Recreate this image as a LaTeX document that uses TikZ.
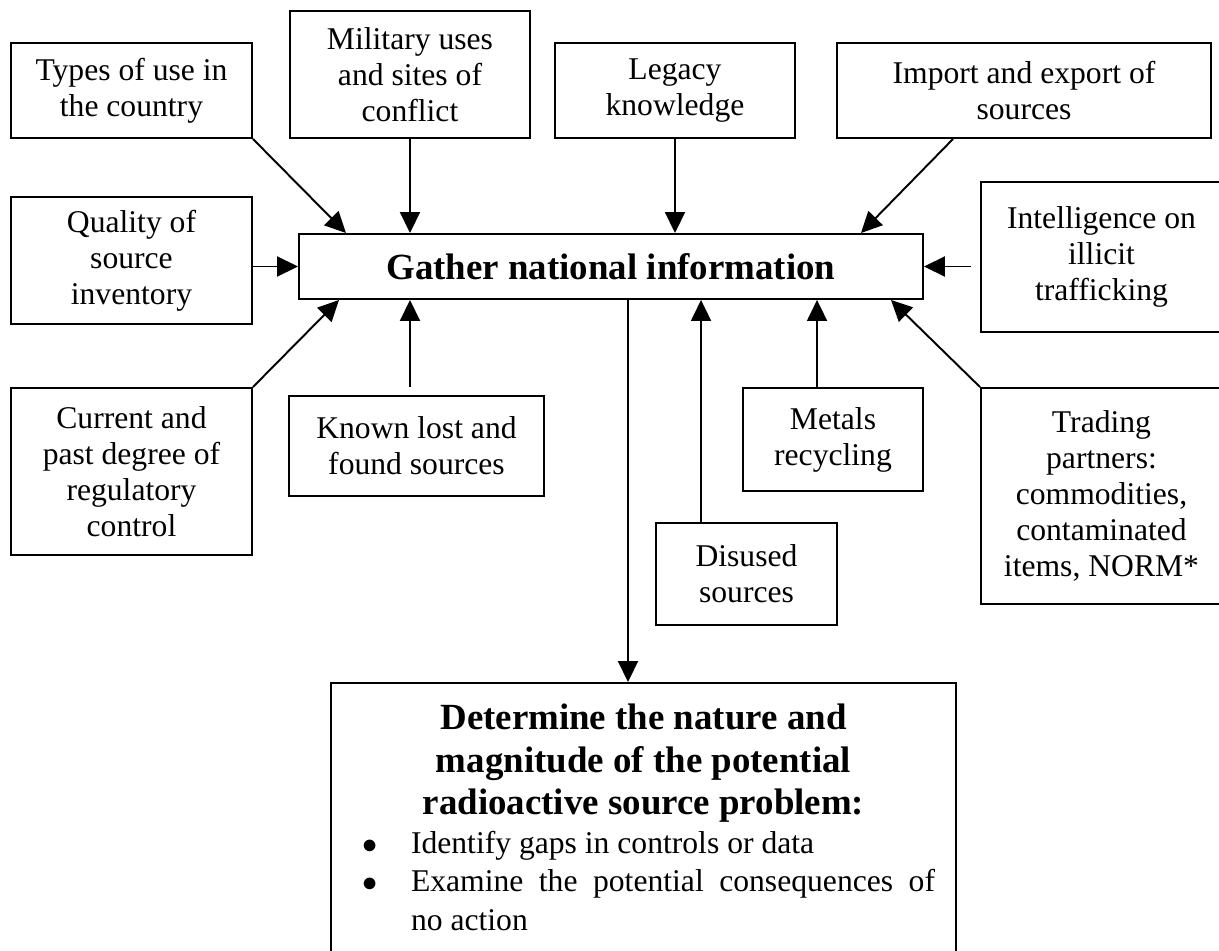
\documentclass[tikz,border=0pt]{standalone}
\usepackage{fontspec}
\setmainfont{Liberation Serif}
\usepackage{tikz}
\usetikzlibrary{arrows.meta}

\begin{document}
\begin{tikzpicture}[
   box/.style={draw, line width=1.1pt, align=center, inner sep=0pt,
      font=\fontsize{18}{20.5}\selectfont},
   feed/.style={line width=1.1pt, -{Triangle[length=0.42cm, width=0.40cm]}}]
   \useasboundingbox (0, 0) rectangle (24.38, -19.02);

   \node[box, minimum width=4.82cm, minimum height=1.90cm] (types) at (2.63, -1.81) {Types of use in\\the country};
   \node[box, minimum width=4.80cm, minimum height=2.54cm] (military) at (8.20, -1.49) {Military uses\\and sites of\\conflict};
   \node[box, minimum width=4.80cm, minimum height=1.90cm] (legacy) at (13.50, -1.81) {Legacy\\knowledge};
   \node[box, minimum width=7.48cm, minimum height=1.90cm] (import) at (20.48, -1.81) {Import and export of\\sources};
   \node[box, minimum width=4.82cm, minimum height=2.54cm] (quality) at (2.63, -5.21) {Quality of\\source\\inventory};
   \node[box, minimum width=12.48cm, minimum height=1.30cm,
      font=\bfseries\fontsize{21}{24.2}\selectfont] (gather) at (12.22, -5.33) {Gather national information};
   \node[box, minimum width=4.82cm, minimum height=3.00cm] (intel) at (22.03, -5.14) {Intelligence on\\illicit\\trafficking};
   \node[box, minimum width=4.82cm, minimum height=3.34cm] (current) at (2.63, -9.43) {Current and\\past degree of\\regulatory\\control};
   \node[box, minimum width=5.10cm, minimum height=2.00cm] (known) at (8.33, -8.92) {Known lost and\\found sources};
   \node[box, minimum width=3.60cm, minimum height=2.06cm] (metals) at (16.66, -8.79) {Metals\\recycling};
   \node[box, minimum width=3.62cm, minimum height=2.04cm] (disused) at (14.93, -11.48) {Disused\\sources};
   \node[box, minimum width=4.82cm, minimum height=4.32cm] (trading) at (22.03, -9.92) {Trading\\partners:\\commodities,\\contaminated\\items, NORM*};
   \node[box, minimum width=12.50cm, minimum height=5.38cm, text width=11.66cm, align=justify,
      font=\fontsize{18}{21.9}\selectfont] (determine) at (12.87, -16.35) {\parindent=0pt
      {\centering\bfseries\fontsize{21}{24.2}\selectfont Determine the nature and\\magnitude of the potential\\radioactive source problem:\par}
      \leftskip=0.2cm
      \hangindent=0.98cm \hangafter=1
      \noindent\makebox[0.98cm][l]{$\bullet$}Identify gaps in controls or data\par
      \hangindent=0.98cm \hangafter=1
      \noindent\makebox[0.98cm][l]{$\bullet$}Examine the potential consequences of\linebreak no action\par};

   \path (types.south east) edge[feed] ([xshift=0.96cm]gather.north west);
   \path (military) edge[feed] (military |- gather.north);
   \path (legacy) edge[feed] (legacy |- gather.north);
   \path ([xshift=2.34cm]import.south west) edge[feed] ([xshift=-1.26cm]gather.north east);
   \path (quality.east |- gather.west) edge[feed] (gather.west);
   \path (intel.west |- gather.east) edge[feed, shorten <=0.18cm] (gather.east);
   \path (current.north east) edge[feed] ([xshift=0.82cm]gather.south west);
   \path ([yshift=0.16cm]known.north -| military) edge[feed] (military |- gather.south);
   \path ([xshift=0.92cm]disused.north west) edge[feed] ([xshift=0.92cm]disused.north west |- gather.south);
   \path ([xshift=1.50cm]metals.north west) edge[feed] ([xshift=1.50cm]metals.north west |- gather.south);
   \path (trading.north west) edge[feed] ([xshift=-0.66cm]gather.south east);
   \path ([xshift=0.34cm]gather.south) edge[feed] ([xshift=0.34cm]gather.south |- determine.north);
\end{tikzpicture}
\end{document}
